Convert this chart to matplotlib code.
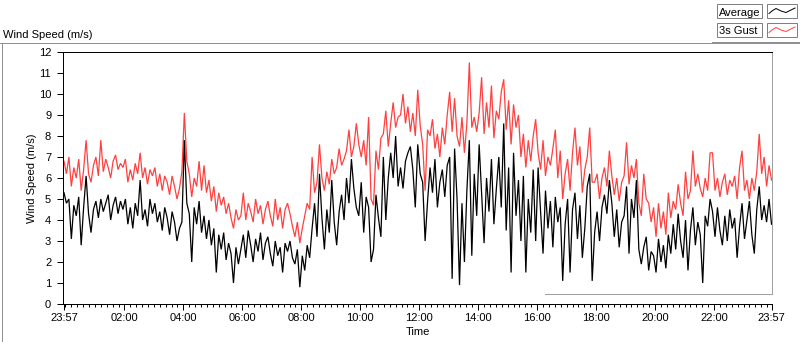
import numpy as np
import matplotlib
matplotlib.use('Agg')
import matplotlib.pyplot as plt
from matplotlib.patches import Rectangle
from matplotlib.lines import Line2D

plt.rcParams['font.family'] = ['Liberation Sans', 'DejaVu Sans']

# ---------------- data (one value every 5 min from 23:57) ----------------
step_minutes = 5

avg_speed = [
    # 23:57 - 01:52
    5.3, 4.8, 5.0, 3.1, 4.7, 4.2, 5.1, 2.8, 4.6, 6.1, 4.3, 3.4, 4.5, 4.9, 4.1, 5.0, 4.4, 4.8, 5.2, 4.0, 4.7, 5.1, 4.3, 4.9,
    # 02:00 - 03:55
    4.5, 5.0, 3.8, 4.6, 3.6, 4.8, 4.2, 5.9, 4.0, 4.5, 3.7, 5.0, 4.3, 4.8, 3.9, 4.4, 3.5, 4.6, 4.1, 3.3, 4.4, 3.9, 3.0, 3.6,
    # 04:00 - 05:55
    3.9, 7.8, 4.8, 4.3, 2.0, 4.6, 3.8, 4.9, 3.4, 4.2, 3.1, 4.0, 2.8, 3.6, 1.5, 3.3, 2.6, 3.4, 2.1, 2.9, 2.4, 1.0, 2.7, 1.9,
    # 06:00 - 07:55
    2.6, 3.3, 2.2, 3.5, 2.8, 2.0, 3.1, 2.5, 3.4, 2.1, 2.9, 3.2, 2.4, 1.8, 3.0, 2.3, 2.7, 1.5, 2.9, 2.5, 3.0, 2.2, 1.9, 2.6,
    # 08:00 - 09:55
    0.8, 2.3, 1.6, 2.8, 2.2, 3.6, 4.8, 3.2, 6.2, 4.1, 2.6, 4.5, 3.4, 5.9, 3.9, 2.8, 4.4, 5.2, 4.0, 6.0, 4.8, 6.9, 5.5, 4.6,
    # 10:00 - 11:55
    4.2, 5.8, 3.4, 5.1, 4.6, 2.0, 2.6, 5.2, 4.1, 3.2, 7.0, 4.0, 6.0, 7.2, 6.0, 8.0, 5.6, 6.5, 5.5, 6.8, 7.2, 7.5, 6.4, 4.6,
    # 12:00 - 13:55
    7.6, 6.2, 5.8, 3.0, 4.9, 6.5, 5.3, 6.9, 4.6, 5.8, 6.4, 5.1, 6.6, 7.0, 1.2, 7.4, 5.0, 0.9, 4.8, 2.0, 5.4, 7.8, 2.3, 6.2,
    # 14:00 - 15:55
    4.2, 7.6, 5.2, 2.9, 6.0, 4.4, 6.9, 3.8, 5.5, 7.0, 4.6, 8.6, 3.5, 6.5, 1.5, 7.2, 4.2, 5.9, 3.0, 6.1, 1.5, 5.0, 3.4, 6.4,
    # 16:00 - 17:55
    3.0, 6.5, 4.4, 2.4, 5.4, 3.6, 4.9, 2.7, 5.1, 3.9, 4.6, 1.1, 3.8, 5.0, 1.5, 4.5, 5.3, 3.1, 4.7, 2.2, 3.6, 5.6, 6.2, 1.1,
    # 18:00 - 19:55
    3.4, 4.4, 3.0, 4.6, 5.2, 4.3, 5.9, 4.8, 3.2, 4.5, 2.7, 3.9, 4.2, 5.6, 2.4, 5.0, 4.1, 5.9, 2.6, 1.9, 2.7, 3.2, 1.6, 2.5,
    # 20:00 - 21:55
    2.3, 1.5, 3.1, 2.0, 2.8, 1.7, 3.3, 2.4, 3.8, 2.6, 4.3, 3.0, 2.2, 4.0, 1.6, 3.5, 4.6, 2.8, 3.9, 3.3, 1.0, 4.2, 3.7, 5.0,
    # 22:00 - 23:57
    4.4, 3.2, 4.6, 3.5, 2.8, 4.2, 3.0, 4.5, 3.6, 4.1, 2.2, 3.7, 4.8, 3.1, 4.0, 4.9, 3.3, 2.4, 4.5, 5.6, 4.0, 4.7, 3.9, 5.0,
    3.8,
]

gust_speed = [
    # 23:57 - 01:52
    6.8, 6.2, 7.0, 5.6, 6.5, 6.0, 6.9, 5.4, 6.4, 7.8, 6.2, 5.8, 6.6, 7.0, 6.1, 7.8, 6.3, 6.9, 6.5, 6.0, 6.8, 7.1, 6.4, 6.7,
    # 02:00 - 03:55
    6.5, 6.9, 5.8, 6.4, 5.9, 6.7, 6.2, 7.2, 6.0, 6.5, 5.7, 6.4, 6.1, 6.5, 5.6, 6.2, 5.4, 6.1, 5.8, 5.2, 6.1, 5.6, 5.0, 5.5,
    # 04:00 - 05:55
    6.3, 9.1, 6.8, 6.2, 5.1, 6.0, 5.6, 6.8, 5.4, 6.6, 5.3, 5.9, 4.9, 5.6, 4.4, 5.3, 4.7, 5.1, 4.3, 4.8, 4.1, 3.6, 4.5, 4.0,
    # 06:00 - 07:55
    4.2, 5.3, 4.0, 4.8, 4.4, 3.9, 5.0, 4.3, 4.7, 3.8, 4.5, 4.9, 4.2, 3.7, 5.0, 4.0, 4.6, 3.6, 4.5, 4.8, 4.3, 3.7, 3.2, 3.9,
    # 08:00 - 09:55
    2.9, 3.6, 4.2, 4.8, 4.5, 7.0, 5.3, 5.8, 7.6, 6.0, 5.4, 6.3, 5.7, 6.9, 6.2, 6.5, 7.4, 6.6, 6.9, 7.3, 8.3, 7.0, 7.5, 8.6,
    # 10:00 - 11:55
    7.6, 7.0, 7.8, 6.6, 8.9, 5.0, 4.7, 7.3, 6.4, 7.9, 8.1, 9.2, 7.5, 8.6, 9.6, 8.4, 8.9, 9.0, 10.0, 8.6, 9.4, 8.2, 9.1, 8.0,
    # 12:00 - 13:55
    10.2, 8.5, 7.6, 5.4, 8.3, 8.0, 8.8, 7.4, 8.1, 7.0, 8.4, 7.6, 9.0, 10.1, 8.2, 9.8, 8.0, 7.5, 8.9, 7.2, 8.6, 11.5, 8.4, 8.9,
    # 14:00 - 15:55
    8.2, 9.1, 10.8, 8.1, 9.6, 8.4, 10.4, 7.9, 9.2, 8.8, 10.1, 10.7, 8.3, 9.7, 7.6, 9.5, 8.4, 9.0, 7.0, 8.1, 6.5, 7.8, 6.8, 8.0,
    # 16:00 - 17:55
    8.8, 7.2, 6.4, 7.8, 6.1, 7.0, 6.6, 7.4, 8.3, 6.0, 7.3, 5.0, 6.2, 6.9, 5.4, 7.2, 8.4, 6.6, 7.5, 5.3, 6.4, 7.0, 8.4, 5.8,
    # 18:00 - 19:55
    5.8, 6.2, 5.0, 6.0, 6.5, 5.6, 7.3, 6.1, 5.2, 6.0, 4.9, 5.8, 6.1, 7.7, 5.7, 6.6, 6.0, 6.9, 4.8, 4.2, 6.2, 5.0, 4.8, 3.9,
    # 20:00 - 21:55
    4.6, 3.2, 4.8, 3.6, 4.4, 3.3, 5.3, 4.1, 4.9, 4.5, 5.7, 4.8, 4.2, 6.3, 5.0, 5.4, 7.3, 5.6, 6.2, 5.5, 5.1, 6.0, 5.4, 7.2,
    # 22:00 - 23:57
    7.2, 5.4, 6.0, 5.1, 5.8, 6.2, 5.2, 5.9, 5.6, 6.1, 5.0, 6.5, 7.3, 5.4, 5.9, 5.0, 6.0, 5.4, 6.3, 8.1, 6.2, 7.0, 5.6, 6.6,
    5.9,
]

series_names = ['Average', '3s Gust']
tick_minutes = [0, 123, 243, 363, 483, 603, 723, 843, 963, 1083, 1203, 1323, 1440]
tick_labels = ['23:57', '02:00', '04:00', '06:00', '08:00', '10:00', '12:00',
               '14:00', '16:00', '18:00', '20:00', '22:00', '23:57']
y_ticks = list(range(0, 13))

# ---------------- figure ----------------
W, H = 800, 342
fig = plt.figure(figsize=(W / 100, H / 100), dpi=100)
fig.patch.set_facecolor('white')


def fx(x):
    return x / W


def fy(y):
    return 1 - y / H


PX = 0.72  # 1 pixel in points
RED = '#ff4040'

ax = fig.add_axes([fx(63), fy(304), (772 - 63) / W, (304 - 52) / H])
minutes = np.arange(len(avg_speed)) * step_minutes
ax.plot(minutes, gust_speed, color=RED, lw=0.9, solid_joinstyle='miter')
ax.plot(minutes, avg_speed, color='black', lw=0.9, solid_joinstyle='miter')

ax.set_xlim(-2, 1441)
ax.set_ylim(0, 12)

ax.set_xticks(tick_minutes)
ax.set_xticklabels(tick_labels)
minor = [m for m in range(3, 1440, 12) if all(abs(m - t) > 2 for t in tick_minutes)]
ax.set_xticks(minor, minor=True)
ax.set_yticks(y_ticks)

ax.tick_params(axis='x', which='major', length=4, width=PX, direction='out', pad=2.5,
               labelsize=8, colors='black')
ax.tick_params(axis='x', which='minor', length=2.2, width=PX, direction='out')
ax.tick_params(axis='y', which='major', length=4, width=PX, direction='out', pad=4.5,
               labelsize=8, colors='black')

for s in ['top', 'left', 'bottom']:
    ax.spines[s].set_color('black')
    ax.spines[s].set_linewidth(PX)
ax.spines['right'].set_visible(False)

# gray inner border (right side and lower edge) of the plot area
gray_bottom = 0.48
ax.plot([1, 1], [gray_bottom / 12, 1], transform=ax.transAxes, color='#a0a0a0',
        lw=PX, clip_on=False)
ax.plot([0.68, 1], [gray_bottom / 12, gray_bottom / 12], transform=ax.transAxes,
        color='#a0a0a0', lw=PX, clip_on=False)

ax.set_xlabel('Time', fontsize=8, labelpad=3)
ax.set_ylabel('Wind Speed (m/s)', fontsize=8, labelpad=1.5)

# title / caption
fig.text(fx(3), fy(37.5), 'Wind Speed (m/s)', fontsize=8, ha='left', va='baseline')

# outer frame
def fline(xs, ys, color, lw=PX):
    fig.add_artist(Line2D([fx(x) for x in xs], [fy(y) for y in ys], color=color,
                          lw=lw, transform=fig.transFigure))

fline([0, 713], [42.5, 42.5], '#909090')
fline([713, 800], [42.5, 42.5], '#909090', lw=2 * PX)
fline([1.5, 1.5], [42.5, 342], '#909090')
fline([0, 800], [341.5, 341.5], 'black')
fline([799.5, 799.5], [0, 342], '#505050')

# legend panel
legend_rows = [(4, 'black'), (23, RED)]
for (ytop, col), name in zip(legend_rows, series_names):
    fig.add_artist(Rectangle((fx(717), fy(ytop + 14)), 45 / W, 14 / H,
                             transform=fig.transFigure, facecolor='white',
                             edgecolor='#808080', lw=PX))
    fig.text(fx(719), fy(ytop + 11.5), name, fontsize=8, ha='left', va='baseline')
    fig.add_artist(Rectangle((fx(767), fy(ytop + 14)), 30 / W, 14 / H,
                             transform=fig.transFigure, facecolor='white',
                             edgecolor='#808080', lw=PX))
    sx = [769, 772, 776, 781, 786, 790, 795]
    sy = [9.5, 7, 4.5, 7, 8.5, 6.5, 4]
    fline(sx, [ytop + v for v in sy], col)

fig.savefig('out.png', dpi=100, facecolor='white')
